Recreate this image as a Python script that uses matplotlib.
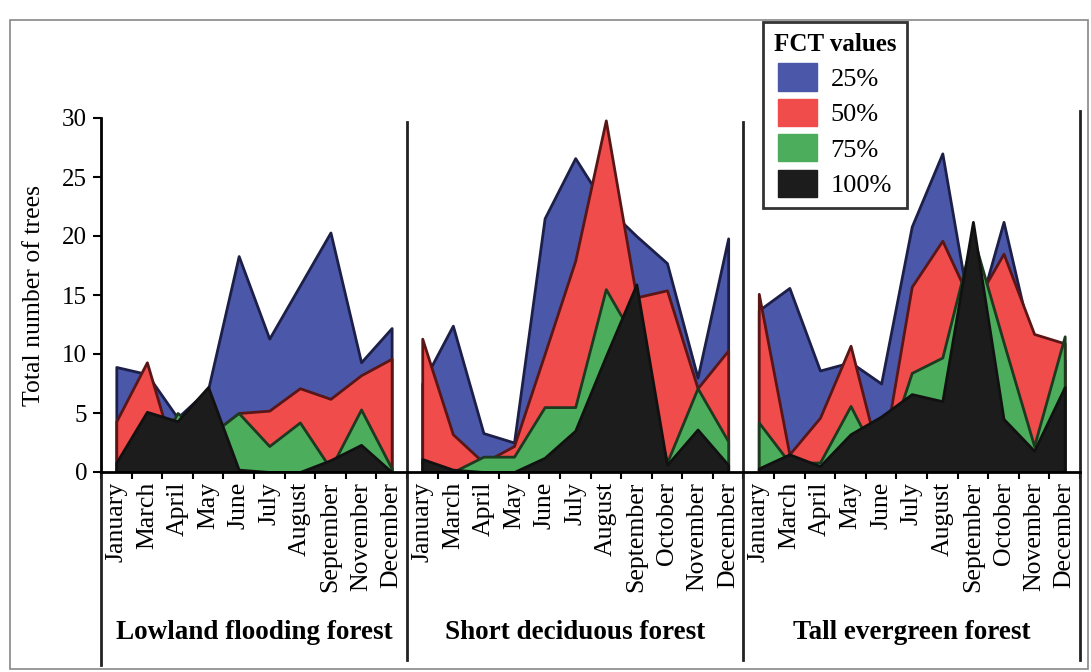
import numpy as np
import matplotlib.pyplot as plt
from matplotlib.patches import Patch, Rectangle

plt.rcParams['font.family'] = ['Liberation Serif', 'DejaVu Serif']

# --- data (number of trees per month) ---
forests = ['Lowland flooding forest', 'Short deciduous forest', 'Tall evergreen forest']

months_lowland = ['January', 'March', 'April', 'May', 'June', 'July', 'August',
                  'September', 'November', 'December']
months_short = ['January', 'March', 'April', 'May', 'June', 'July', 'August',
                'September', 'October', 'November', 'December']
months_tall = ['January', 'March', 'April', 'May', 'June', 'July', 'August',
               'September', 'October', 'November', 'December']

lowland_25 = [8.9, 8.3, 4.6, 7.0, 18.3, 11.3, 15.8, 20.3, 9.3, 12.2]
lowland_50 = [4.3, 9.3, 0.5, 3.0, 5.0, 5.2, 7.1, 6.2, 8.2, 9.6]
lowland_75 = [0.0, 0.3, 5.0, 3.0, 5.0, 2.2, 4.2, 0.3, 5.3, 0.3]
lowland_100 = [0.8, 5.1, 4.3, 7.2, 0.2, 0.0, 0.0, 1.0, 2.3, 0.0]

short_25 = [7.5, 12.4, 3.3, 2.5, 21.5, 26.6, 22.5, 20.0, 17.7, 8.0, 19.8]
short_50 = [11.3, 3.2, 0.8, 2.2, 10.0, 17.9, 29.8, 14.8, 15.4, 7.1, 10.3]
short_75 = [0.0, 0.0, 1.3, 1.3, 5.5, 5.5, 15.5, 11.0, 0.8, 7.1, 2.6]
short_100 = [1.1, 0.2, 0.0, 0.0, 1.2, 3.5, 9.8, 15.9, 0.6, 3.6, 0.6]

tall_25 = [13.7, 15.6, 8.6, 9.3, 7.5, 20.8, 27.0, 12.0, 21.2, 10.0, 9.5]
tall_50 = [15.1, 1.5, 4.6, 10.7, 0.5, 15.7, 19.6, 14.0, 18.5, 11.7, 10.9]
tall_75 = [4.2, 0.8, 0.8, 5.6, 0.5, 8.4, 9.7, 20.0, 11.0, 2.2, 11.5]
tall_100 = [0.3, 1.5, 0.5, 3.2, 4.7, 6.6, 6.0, 21.2, 4.5, 1.8, 7.2]

fct_labels = ['25%', '50%', '75%', '100%']
fill_colors = ['#4b57a8', '#f04c4c', '#4cae5c', '#1c1c1c']
edge_colors = ['#1c1f48', '#5a1616', '#1d3a20', '#111111']

panels = [
    (months_lowland, [lowland_25, lowland_50, lowland_75, lowland_100]),
    (months_short, [short_25, short_50, short_75, short_100]),
    (months_tall, [tall_25, tall_50, tall_75, tall_100]),
]

fig = plt.figure(figsize=(10.91, 6.72), dpi=100)
ax = fig.add_axes([101 / 1091, (672 - 472) / 672, (1080 - 101) / 1091, (472 - 118) / 672])

tick_labels = []
start = 0
bounds = []
for months, series in panels:
    x = np.arange(start, start + len(months))
    for vals, fc, ec in zip(series, fill_colors, edge_colors):
        ax.fill_between(x, 0, vals, facecolor=fc, edgecolor=ec, linewidth=2.0, zorder=2)
    tick_labels += months
    start += len(months)
    bounds.append(start - 0.5)

n = start
ax.set_xlim(-0.5, n - 0.5)
ax.set_ylim(0, 30)
ax.set_yticks(np.arange(0, 31, 5))
ax.set_xticks(np.arange(n))
ax.set_xticklabels(tick_labels, rotation=90, fontsize=18.5)
ax.set_xticks(np.arange(-0.5, n, 1), minor=True)
ax.tick_params(axis='x', which='major', length=0, pad=7)
ax.tick_params(axis='x', which='minor', length=5, width=1.5, direction='out')
ax.tick_params(axis='y', length=6, width=1.5, labelsize=18, pad=4)
ax.set_ylabel('Total number of trees', fontsize=18.5, labelpad=12)

for s in ['top', 'right']:
    ax.spines[s].set_visible(False)
ax.spines['left'].set_linewidth(2)
ax.spines['bottom'].set_linewidth(2)
ax.spines['left'].set_bounds(0, 30)

# y-axis and dividers run down through the label area
ax.axvline(-0.5, ymin=-0.545, ymax=0, color='#222222', lw=2, clip_on=False)
for b in bounds[:-1]:
    ax.axvline(b, ymin=-0.53, ymax=0.99, color='#222222', lw=2, clip_on=False)
ax.axvline(bounds[-1], ymin=-0.53, ymax=1.02, color='#222222', lw=2, clip_on=False)

# forest names under each panel
lo = -0.5
for name, hi in zip(forests, bounds):
    ax.text((lo + hi) / 2, -0.452, name, transform=ax.get_xaxis_transform(),
            ha='center', va='center', fontsize=19.5, fontweight='bold')
    lo = hi

handles = [Patch(facecolor=fc, edgecolor=fc) for fc in fill_colors]
leg = fig.legend(handles, fct_labels, title='FCT values', loc='upper left',
                 bbox_to_anchor=(763 / 1091, 1 - 22 / 672), fontsize=19,
                 title_fontproperties={'weight': 'bold', 'size': 18},
                 frameon=True, fancybox=False, handlelength=1.5, handleheight=1.2,
                 borderpad=0.4, labelspacing=0.3, handletextpad=0.5,
                 borderaxespad=0)
leg.get_frame().set_edgecolor('black')
leg.get_frame().set_linewidth(2)

fig.add_artist(Rectangle((10 / 1091, 3 / 672), 1078 / 1091, 649 / 672,
                         transform=fig.transFigure, fill=False,
                         edgecolor='#888888', lw=1.2))

fig.savefig('out.png', dpi=100)
